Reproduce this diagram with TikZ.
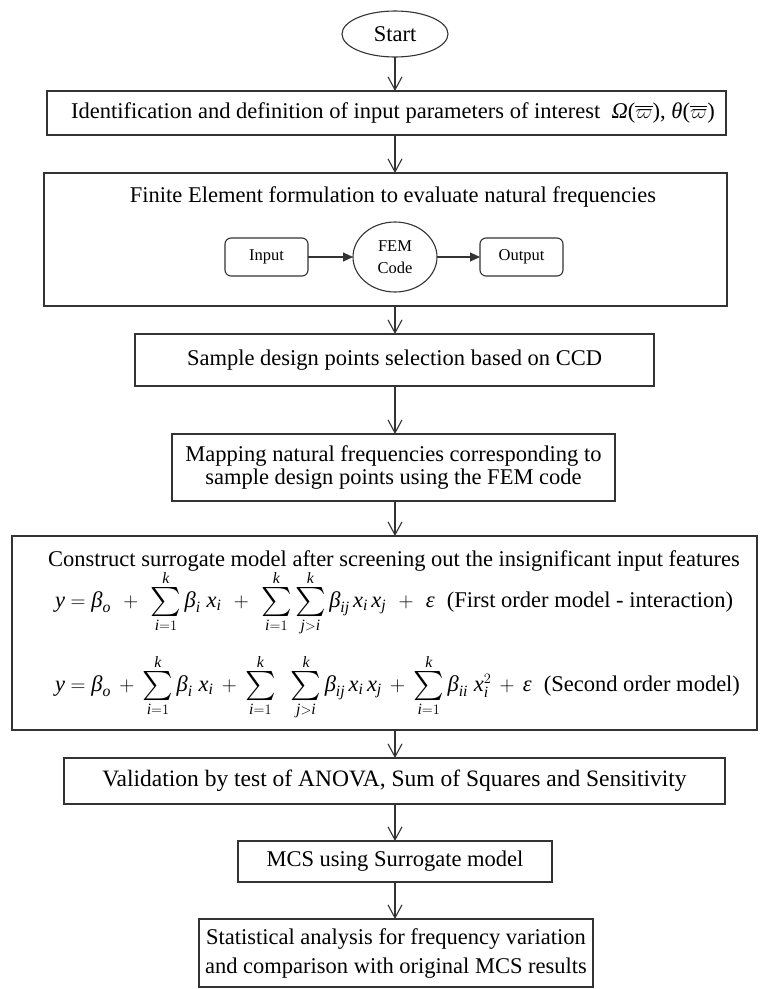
\documentclass[tikz,border=0pt]{standalone}
\usepackage{amsmath}
\usepackage{graphicx}
\usepackage{fontspec}
\setmainfont{Liberation Serif}
\usetikzlibrary{arrows.meta,shapes.geometric}
% italic letters in formulas taken from the text font
\newcommand{\vi}[1]{\text{\itshape #1}}
% an enlarged summation sign with limits
\newcommand{\bsum}{\mathop{\vcenter{\hbox{\scalebox{1.4}{$\textstyle\sum$}}}}\limits}
\tikzset{
  every node/.style={inner sep=0pt, outer sep=0pt},
  txt/.style={font=\fontsize{22.5}{27}\selectfont},
  small/.style={font=\fontsize{16.5}{22}\selectfont},
  edge/.style={draw=black!80, line width=1.1pt},
  stepbox/.style 2 args={edge, rectangle, txt, align=center,
    minimum width=#1, minimum height=#2},
  startshape/.style={edge, ellipse, txt, minimum width=106pt, minimum height=46pt},
  smallbox/.style={edge, rectangle, rounded corners=6pt, small,
    minimum width=83pt, minimum height=38pt},
  femshape/.style={edge, ellipse, small, align=center,
    minimum width=84pt, minimum height=70pt},
  flow/.style={edge, -{Straight Barb[length=13pt,width=14pt]}},
  inflow/.style={edge, -{Triangle[length=10pt,width=9pt]}},
}
\begin{document}
\begin{tikzpicture}[x=1pt,y=-1pt]
\fill[white] (0,0) rectangle (763,989);
\useasboundingbox (0,0) rectangle (763,989);

% main chain of steps
\node[startshape] (start) at (395,34) {Start};
\node[stepbox={679pt}{44pt}] (b1) at (386.5,113) {};
\node[txt] (b1t) at (393,113)
  {Identification and definition of input parameters of interest~~\textit{Ω}(\ensuremath{\overline{\varpi}}), \textit{θ}(\ensuremath{\overline{\varpi}})};

\node[stepbox={683pt}{133pt}] (b2) at (385.5,239.5) {};
\node[txt, anchor=base] (b2t) at (393,202)
  {Finite Element formulation to evaluate natural frequencies};
\node[smallbox] (inp) at (266.5,257) {Input};
\node[femshape] (fem) at (395,257) {FEM\\Code};
\node[smallbox] (outp) at (521.5,257) {Output};

\node[stepbox={519pt}{52pt}] (b3) at (394.5,360)
  {Sample design points selection based on CCD};
\node[stepbox={443pt}{67pt}, font=\fontsize{22.5}{23}\selectfont] (b4) at (393.5,467.5)
  {Mapping natural frequencies corresponding to\\sample design points using the FEM code};

\node[stepbox={745pt}{194pt}] (b5) at (384.5,633) {};
\node[txt, anchor=base] (b5t) at (394,566)
  {Construct surrogate model after screening out the insignificant input features};
\node[txt, anchor=base west] (eq1) at (55,607) {\hbox to 678pt{$\vi{y} = \vi{β}_{\vi{o}}\hfil + \hfil
  \bsum_{\vi{i}=1}^{\vi{k}}\vi{β}_{\vi{i}}\;\vi{x}_{\vi{i}}\hfil + \hfil
  \bsum_{\vi{i}=1}^{\vi{k}}\bsum_{\vi{j}>\vi{i}}^{\vi{k}}\vi{β}_{\vi{ij}}\,\vi{x}_{\vi{i}}\,\vi{x}_{\vi{j}}\hfil + \hfil
  \vi{ε}$\hskip 12pt(First order model - interaction)}};
\node[txt, anchor=base west] (eq2) at (55,691) {\hbox to 685pt{$\vi{y} = \vi{β}_{\vi{o}}\hfil + \hfil
  \bsum_{\vi{i}=1}^{\vi{k}}\vi{β}_{\vi{i}}\;\vi{x}_{\vi{i}}\hfil + \hfil
  \bsum_{\vi{i}=1}^{\vi{k}}\;\;\bsum_{\vi{j}>\vi{i}}^{\vi{k}}\vi{β}_{\vi{ij}}\,\vi{x}_{\vi{i}}\,\vi{x}_{\vi{j}}\hfil + \hfil
  \bsum_{\vi{i}=1}^{\vi{k}}\vi{β}_{\vi{ii}}\;\vi{x}_{\vi{i}}^{2}\hfil + \hfil
  \vi{ε}$\hskip 12pt(Second order model)}};

\node[stepbox={661pt}{46pt}, font=\fontsize{23.5}{28}\selectfont] (b6) at (394.5,781)
  {Validation by test of ANOVA, Sum of Squares and Sensitivity};
\node[stepbox={314pt}{41pt}] (b7) at (395,861.5) {MCS using Surrogate model};
\node[stepbox={394pt}{68pt}, font=\fontsize{22.5}{29}\selectfont] (b8) at (396,953)
  {Statistical analysis for frequency variation\\and comparison with original MCS results};

% connectors
\draw[flow] (start.south) -- (start.south |- b1.north);
\draw[flow] (start.south |- b1.south) -- (start.south |- b2.north);
\draw[flow] (start.south |- b2.south) -- (start.south |- b3.north);
\draw[flow] (start.south |- b3.south) -- (start.south |- b4.north);
\draw[flow] (start.south |- b4.south) -- (start.south |- b5.north);
\draw[flow] (start.south |- b5.south) -- (start.south |- b6.north);
\draw[flow] (start.south |- b6.south) -- (start.south |- b7.north);
\draw[flow] (start.south |- b7.south) -- (start.south |- b8.north);
\draw[inflow] (inp) -- (fem);
\draw[inflow] (fem) -- (outp);
\end{tikzpicture}
\end{document}
